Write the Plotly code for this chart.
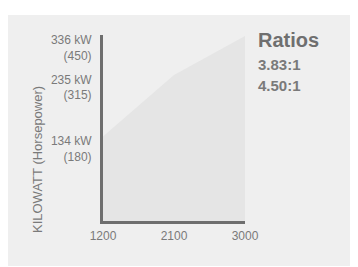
import plotly.graph_objects as go
import math

rpm = [1200, 2100, 3000]
power_kw = [134, 235, 336]
tick_kw = [134, 235, 336]
tick_hp = [180, 315, 450]
x_ticks = [1200, 2100, 3000]
ratios = ["3.83:1", "4.50:1"]

FONT = "Liberation Sans, Arial, Helvetica, sans-serif"
TXT = "#7a7a7a"

fig = go.Figure()
fig.add_trace(go.Scatter(x=rpm, y=[40] * len(rpm), mode="lines",
                         line=dict(width=0, color="rgba(0,0,0,0)"),
                         hoverinfo="skip", showlegend=False))
fig.add_trace(go.Scatter(x=rpm, y=power_kw, mode="lines", fill="tonexty",
                         fillcolor="#e5e5e5", line=dict(width=0, color="#e5e5e5"),
                         showlegend=False))

OFF = 8  # page body margin
SW, SH = 358, 267
W, H = SW - OFF, SH - OFF
# plot area in screen pixels
X0, X1, Y0, Y1 = 103, 245, 35, 221
L, T = X0 - OFF, Y0 - OFF
R, B = SW - X1, SH - Y1
pw, ph = X1 - X0, Y1 - Y0

def px(x):
    return (x - X0) / pw

def py(y):
    return (Y1 - y) / ph

fig.add_shape(type="rect", xref="paper", yref="paper",
              x0=px(8), x1=px(356), y0=py(266), y1=py(15),
              fillcolor="#efefef", line=dict(width=0), layer="below")

fig.update_layout(
    width=W, height=H,
    margin=dict(l=L, r=R, t=T, b=B, autoexpand=False),
    paper_bgcolor="white",
    plot_bgcolor="rgba(0,0,0,0)",
    font=dict(family=FONT, color=TXT, size=12),
    showlegend=False,
)
fig.update_xaxes(range=[1200, 3000], showgrid=False, zeroline=False,
                 automargin=False,
                 showline=True, linewidth=3, linecolor="#6e6e6e",
                 tickvals=x_ticks, ticktext=[str(v) for v in x_ticks],
                 ticks="outside", ticklen=2, tickcolor="rgba(0,0,0,0)",
                 tickfont=dict(size=12, color=TXT))
fig.update_yaxes(type="log", range=[math.log10(62), math.log10(339)],
                 showgrid=False, zeroline=False, automargin=False,
                 showline=True, linewidth=3, linecolor="#6e6e6e",
                 tickvals=tick_kw,
                 ticktext=[f"{k} kW<br>({h})" for k, h in zip(tick_kw, tick_hp)],
                 ticks="outside", ticklen=6, tickcolor="rgba(0,0,0,0)",
                 ticklabelshift=12,
                 tickfont=dict(size=12, color=TXT))

fig.add_annotation(xref="paper", yref="paper", x=px(37), y=py(160),
                   xanchor="center", yanchor="middle",
                   text="KILOWATT (Horsepower)", textangle=-90, showarrow=False,
                   font=dict(size=13, color=TXT, family=FONT))
fig.add_annotation(xref="paper", yref="paper", x=px(256), y=py(40),
                   xanchor="left", yanchor="middle",
                   text="<b>Ratios</b>", showarrow=False,
                   font=dict(size=20, color="#6f6f6f", family=FONT))
for i, r in enumerate(ratios):
    fig.add_annotation(xref="paper", yref="paper", x=px(256), y=py(65 + 20 * i),
                       xanchor="left", yanchor="middle",
                       text=f"<b>{r}</b>", showarrow=False,
                       font=dict(size=15, color="#7a7a7a", family=FONT))

fig.write_html("out.html")
